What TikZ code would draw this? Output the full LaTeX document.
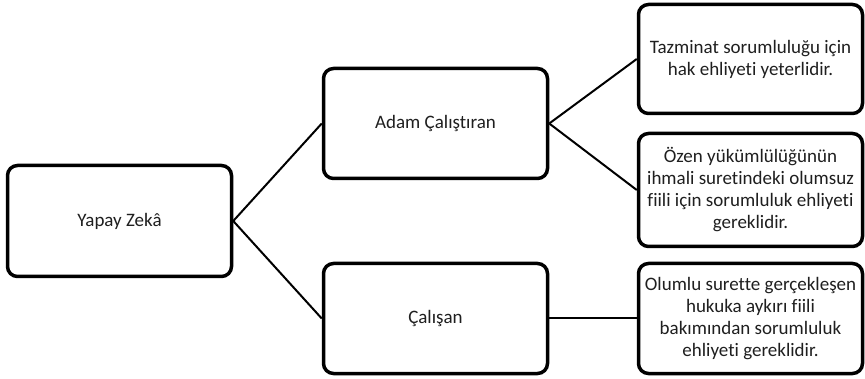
\documentclass[tikz,border=0pt]{standalone}
\usepackage{fontspec}
\setmainfont{Carlito}[Ligatures=NoCommon]
\begin{document}
\begin{tikzpicture}[x=1pt,y=-1pt,
  box/.style={draw=black, line width=3.5pt, rounded corners=10pt, fill=white,
    align=center, inner sep=0pt, font=\fontsize{19}{22}\selectfont,
    text=black!88},
  link/.style={draw=black, line width=2pt}]
\useasboundingbox (0,0) rectangle (865,379);
\node[box, minimum width=224pt, minimum height=111pt] (yz) at (119.5,221) {Yapay Zekâ};
\node[box, minimum width=224pt, minimum height=110pt] (ac) at (435.5,123.5) {Adam Çalıştıran};
\node[box, minimum width=224pt, minimum height=110pt] (cs) at (435.5,318.5) {Çalışan};
\node[box, minimum width=224pt, minimum height=109pt] (r1) at (750.5,59) {Tazminat sorumluluğu için\\hak ehliyeti yeterlidir.};
\node[box, minimum width=224pt, minimum height=113pt] (r2) at (750.5,190) {Özen yükümlülüğünün\\ihmali suretindeki olumsuz\\fiili için sorumluluk ehliyeti\\gereklidir.};
\node[box, minimum width=224pt, minimum height=110pt] (r3) at (750.5,318.5) {Olumlu surette gerçekleşen\\hukuka aykırı fiili\\bakımından sorumluluk\\ehliyeti gereklidir.};
\draw[link] (yz.east) -- (ac.west);
\draw[link] (yz.east) -- (cs.west);
\draw[link] (ac.east) -- (r1.west);
\draw[link] (ac.east) -- (r2.west);
\draw[link] (cs.east) -- (r3.west);
\end{tikzpicture}
\end{document}
